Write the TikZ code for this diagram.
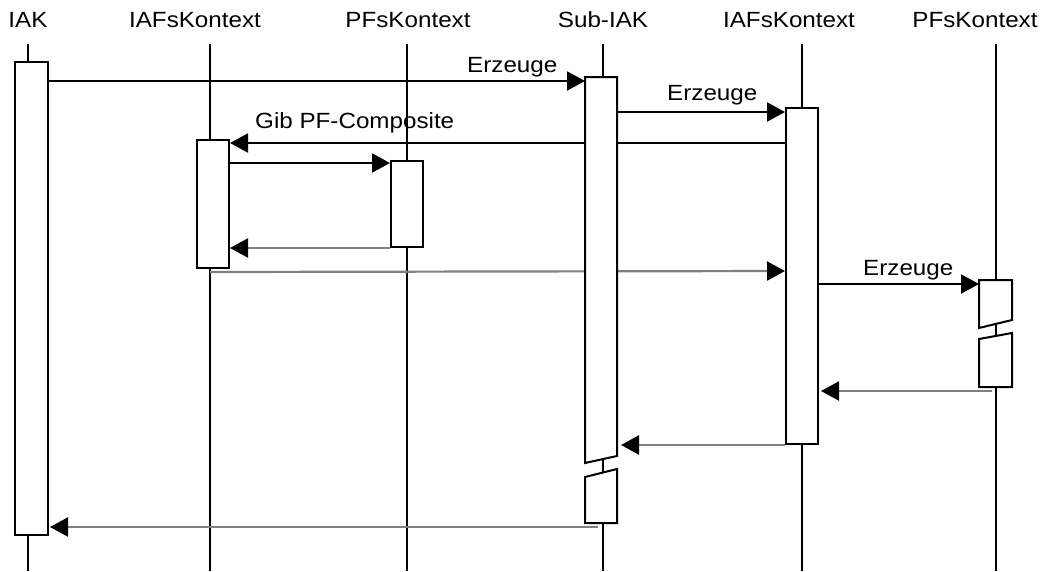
\documentclass[tikz,border=0pt]{standalone}
\usepackage{fontspec}
\setmainfont{Liberation Sans}[FakeStretch=1.1]
\usetikzlibrary{arrows.meta}

\tikzset{
  head/.style={anchor=base, inner sep=0pt, font=\fontsize{22}{26}\selectfont},
  msglabel/.style={anchor=base west, inner sep=0pt, font=\fontsize{22}{26}\selectfont},
  lifeline/.style={line width=2pt},
  bar/.style={draw=black, fill=white, line width=2pt, inner sep=0pt, minimum width=32pt},
  call/.style={-{Triangle[length=18pt,width=19pt]}, line width=2pt},
  reply/.style={-{Triangle[length=18pt,width=19pt,color=black]}, line width=2.2pt, draw=gray}
}

\begin{document}
\begin{tikzpicture}[x=1pt, y=-1pt]
  \useasboundingbox (0,0) rectangle (1043,571);

  % Objekte
  \node[head] (iak) at (28,27) {IAK};
  \node[head] (iafs1) at (195,27) {IAFsKontext};
  \node[head] (pfs1) at (408,27) {PFsKontext};
  \node[head] (subiak) at (603,27) {Sub-IAK};
  \node[head] (iafs2) at (789,27) {IAFsKontext};
  \node[head] (pfs2) at (975,27) {PFsKontext};

  % Lebenslinien
  \foreach \x in {28,210,407,603,802,996}
    \draw[lifeline] (\x,44) -- (\x,571);

  % Aktivierungen
  \node[bar, minimum width=33pt, minimum height=473pt] (iakbar) at (31.5,298.5) {};
  \node[bar, minimum height=128pt] (iafs1bar) at (213,204) {};
  \node[bar, minimum height=86pt] (pfs1bar) at (407,204) {};
  \node[bar, minimum height=336pt] (iafs2bar) at (802,276) {};
  \coordinate (subL) at (585,0);
  \coordinate (subR) at (617,0);
  \coordinate (pfs2L) at (979,0);

  % Nachrichten
  \draw[call] (iakbar.east |- 0,81) -- (subL |- 0,81);
  \draw[call] (subR |- 0,112) -- (iafs2bar.west |- 0,112);
  \draw[call] (iafs2bar.west |- 0,143) -- (iafs1bar.east |- 0,143);
  \draw[call] (iafs1bar.east |- 0,163) -- (pfs1bar.west |- 0,163);
  \draw[reply] (pfs1bar.south west) -- (iafs1bar.east |- pfs1bar.south);
  \draw[reply] ([shift={(-3,3)}]iafs1bar.south) -- (iafs2bar.west |- 0,271);
  \draw[call] (iafs2bar.east |- 0,284) -- (pfs2L |- 0,284);
  \draw[reply] (992,391) -- ([xshift=2pt]iafs2bar.east |- 0,391);
  \draw[reply] (iafs2bar.south west) -- ([xshift=4pt]subR |- iafs2bar.south);
  \draw[reply] (598,527) -- ([xshift=1pt]iakbar.east |- 0,527);

  % unterbrochene Aktivierungen
  \draw[bar] (585,77) -- (617,77) -- (617,456) -- (585,463) -- cycle;
  \draw[bar] (585,477) -- (617,469) -- (617,523) -- (585,523) -- cycle;
  \draw[bar] (979,280) -- (1012,280) -- (1012,320) -- (979,328) -- cycle;
  \draw[bar] (979,339) -- (1012,333) -- (1012,387) -- (979,387) -- cycle;

  % Beschriftungen
  \node[msglabel] (erz1) at (467,72) {Erzeuge};
  \node[msglabel] (erz2) at (667,100) {Erzeuge};
  \node[msglabel] (gib) at (255,128) {Gib PF-Composite};
  \node[msglabel] (erz3) at (863,275) {Erzeuge};
\end{tikzpicture}
\end{document}
